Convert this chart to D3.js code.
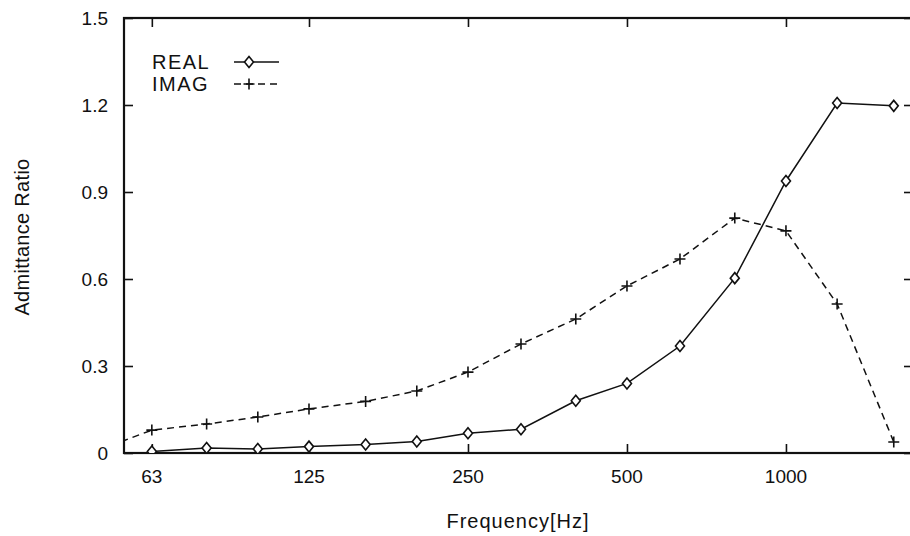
<!DOCTYPE html>
<html><head><meta charset="utf-8">
<script src="https://cdn.jsdelivr.net/npm/d3@7"></script>
<style>
html,body{margin:0;padding:0;background:#fff;}
svg{display:block;}
text{font-family:"Liberation Sans",Arial,Helvetica,sans-serif;fill:#111;}
</style></head>
<body>
<svg id="chart" width="910" height="536"></svg>
<script>
// ---- data ----
const frequencies = [50, 63, 80, 100, 125, 160, 200, 250, 315, 400, 500, 630, 800, 1000, 1250, 1600];
const realValues  = [null, 0.005, 0.017, 0.014, 0.022, 0.029, 0.040, 0.068, 0.082, 0.180, 0.240, 0.369, 0.603, 0.938, 1.207, 1.197];
const imagValues  = [0.010, 0.079, 0.100, 0.124, 0.152, 0.178, 0.214, 0.279, 0.376, 0.462, 0.576, 0.669, 0.810, 0.766, 0.514, 0.038];
const xTickValues = [63, 125, 250, 500, 1000];
const yTickValues = [0, 0.3, 0.6, 0.9, 1.2, 1.5];
const seriesNames = ["REAL", "IMAG"];

(function(){
// ---- layout ----
const pLeft = 124, pRight = 913, pTop = 18, pBottom = 453;
const svg = d3.select("#chart");
const ink = "#111";

const x = d3.scaleLog().domain([55.8, 1740]).range([pLeft, pRight]);
const y = d3.scaleLinear().domain([0, 1.5]).range([pBottom, pTop]);

svg.append("defs").append("clipPath").attr("id","plotclip")
  .append("rect").attr("x", pLeft).attr("y", pTop).attr("width", pRight-pLeft).attr("height", pBottom-pTop);

// frame
svg.append("rect").attr("x", pLeft).attr("y", pTop).attr("width", pRight-pLeft).attr("height", pBottom-pTop)
  .attr("fill","none").attr("stroke", ink).attr("stroke-width", 2.2);

const tickLen = 9;
const yAxisL = svg.append("g").attr("transform", `translate(${pLeft},0)`)
  .call(d3.axisRight(y).tickValues(yTickValues).tickSize(tickLen).tickFormat(""));
const yAxisR = svg.append("g").attr("transform", `translate(${pRight},0)`)
  .call(d3.axisLeft(y).tickValues(yTickValues).tickSize(tickLen).tickFormat(""));
const xAxisB = svg.append("g").attr("transform", `translate(0,${pBottom})`)
  .call(d3.axisTop(x).tickValues(xTickValues).tickSize(tickLen).tickFormat(""));
const xAxisT = svg.append("g").attr("transform", `translate(0,${pTop})`)
  .call(d3.axisBottom(x).tickValues(xTickValues).tickSize(tickLen).tickFormat(""));
[yAxisL, yAxisR, xAxisB, xAxisT].forEach(g => {
  g.select(".domain").remove();
  g.selectAll(".tick line").attr("stroke", ink).attr("stroke-width", 1.6);
});

// tick labels
svg.append("g").selectAll("text").data(yTickValues).join("text")
  .attr("x", 108).attr("y", d => y(d) + 6.5)
  .attr("text-anchor","end").attr("font-size", 19)
  .text(d => d === 0 ? "0" : d3.format(".1f")(d));
svg.append("g").selectAll("text").data(xTickValues).join("text")
  .attr("x", d => x(d)).attr("y", 483)
  .attr("text-anchor","middle").attr("font-size", 19)
  .text(d => d);

// axis titles
svg.append("text").attr("transform", "translate(29,237) rotate(-90)")
  .attr("text-anchor","middle").attr("font-size", 20).attr("letter-spacing", 0.3).text("Admittance Ratio");
svg.append("text").attr("x", 518).attr("y", 528)
  .attr("text-anchor","middle").attr("font-size", 20).attr("letter-spacing", 1).text("Frequency[Hz]");

// series
const plot = svg.append("g").attr("clip-path","url(#plotclip)");
const realPts = frequencies.map((f,i)=>({f, v: realValues[i]})).filter(d => d.v !== null);
const imagPts = frequencies.map((f,i)=>({f, v: imagValues[i]})).filter(d => d.v !== null);

const line = d3.line().x(d => x(d.f)).y(d => y(d.v));
plot.append("path").datum(imagPts).attr("d", line)
  .attr("fill","none").attr("stroke", ink).attr("stroke-width", 1.5).attr("stroke-dasharray","7,5");
plot.append("path").datum(realPts).attr("d", line)
  .attr("fill","none").attr("stroke", ink).attr("stroke-width", 1.5);

const diamond = (cx, cy) => `M${cx},${cy-5.5}L${cx+4.5},${cy}L${cx},${cy+5.5}L${cx-4.5},${cy}Z`;
const plus = (cx, cy) => `M${cx-5.5},${cy}H${cx+5.5}M${cx},${cy-5.5}V${cy+5.5}`;

plot.append("g").selectAll("path").data(realPts).join("path")
  .attr("d", d => diamond(x(d.f), y(d.v)))
  .attr("fill","#fff").attr("stroke", ink).attr("stroke-width", 1.6);
plot.append("g").selectAll("path").data(imagPts).join("path")
  .attr("d", d => plus(x(d.f), y(d.v)))
  .attr("fill","none").attr("stroke", ink).attr("stroke-width", 1.6);

// legend
const legend = svg.append("g");
seriesNames.forEach((name, i) => {
  const ly = 62 + i*22;
  legend.append("text").attr("x", 152).attr("y", ly + 7).attr("font-size", 20)
    .attr("letter-spacing", 1.5).text(name);
  legend.append("line").attr("x1", 234).attr("x2", 279).attr("y1", ly).attr("y2", ly)
    .attr("stroke", ink).attr("stroke-width", 1.5)
    .attr("stroke-dasharray", i === 1 ? "7,5" : null);
  legend.append("path").attr("d", i === 0 ? diamond(249, ly) : plus(249, ly))
    .attr("fill", i === 0 ? "#fff" : "none").attr("stroke", ink).attr("stroke-width", 1.6);
});
})();
</script>
</body></html>
